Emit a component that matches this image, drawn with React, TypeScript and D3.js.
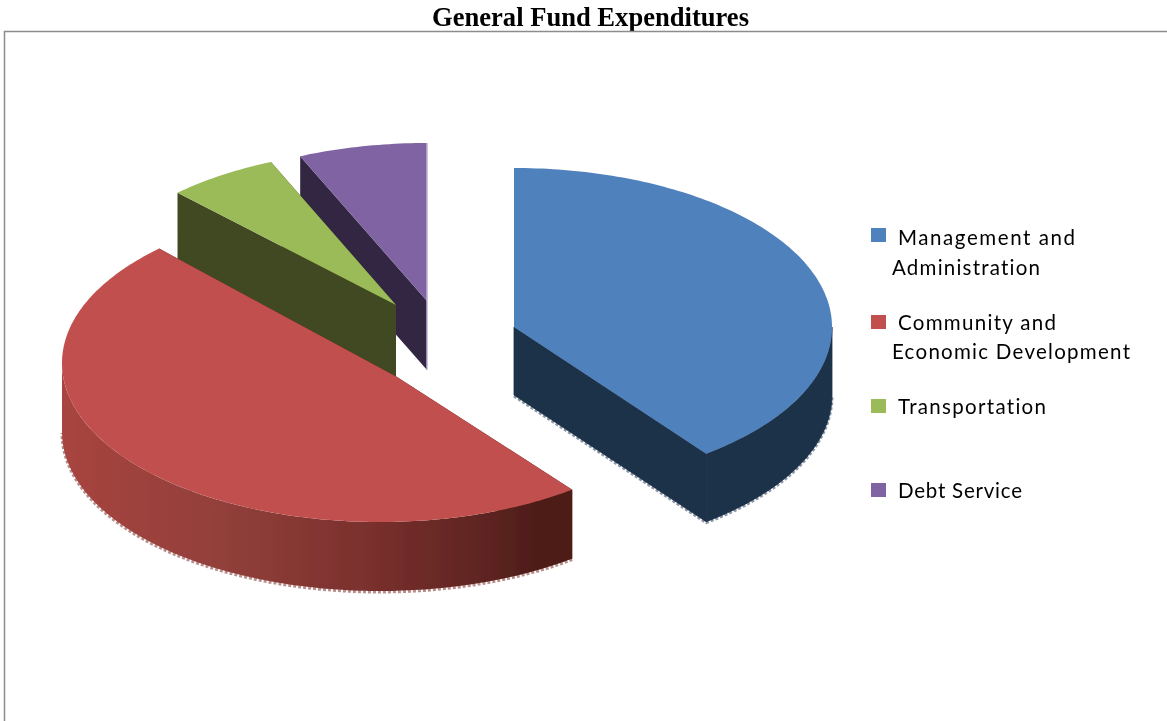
import React from "react";
import * as d3 from "d3";

const title = "General Fund Expenditures";
const categories = ["Management and Administration", "Community and Economic Development", "Transportation", "Debt Service"];
const legendLines = [["Management and", "Administration"], ["Community and", "Economic Development"], ["Transportation"], ["Debt Service"]];
const shares = [39.67, 48.11, 5.69, 6.53];
const topColors = ["#4f81bd", "#c0504d", "#9bbb59", "#8064a2"];
const wallColors = ["#1d3049", "#4e1c18", "#3f4a20", "#312642"];
const edgeColors = ["#8b97a6", "#b98f8d", "#8f9a70", "#8f88a0"];

// placement of each exploded slice in the projected view
const arcCentres = [[514, 327], [380, 363], [397, 305], [427, 302]];
const apexes = [[514, 327], [397, 377], [396, 305], [427, 301]];
const radiiX = [318, 318, 316, 318];
const radiiY = [159, 159, 156, 159];
const depths = [68, 69, 72, 69];
const legendSwatchY = [228, 315, 399, 483];
const legendBaselines = [[245, 275], [330, 359], [414], [498]];
const legendWidths = [[177, 148], [158, 238], [148], [124]];
const redWallStops = [["0%", "#a8443f"], ["30%", "#93403b"], ["60%", "#7a302d"], ["85%", "#5c2320"], ["93%", "#4e1c18"], ["100%", "#4e1c18"]];

const pieGen = d3.pie<number>().sort(null).startAngle(0).endAngle(2 * Math.PI);
const pieData = pieGen(shares);
const lineGen = d3.line<number[]>().x((p) => p[0]).y((p) => p[1]).curve(d3.curveLinear);

function arcPoints(i: number, from: number, to: number, dy = 0) {
  const [cx, cy] = arcCentres[i];
  const n = Math.max(2, Math.round(((to - from) * 180) / Math.PI));
  return d3.range(n + 1).map((k) => {
    const t = from + ((to - from) * k) / n;
    return [cx + radiiX[i] * Math.sin(t), cy - radiiY[i] * Math.cos(t) + dy];
  });
}

function Slice({ i }: { i: number }) {
  const a = pieData[i];
  const depth = depths[i];
  const top = arcPoints(i, a.startAngle, a.endAngle);
  const apex = apexes[i];
  const apexLow = [apex[0], apex[1] + depth];
  const first = top[0];
  const last = top[top.length - 1];
  const startWall = lineGen([apex, first, [first[0], first[1] + depth], apexLow]) + "Z";
  const endWall = lineGen([apex, last, [last[0], last[1] + depth], apexLow]) + "Z";
  const face = lineGen([apex, ...top]) + "Z";

  // only the part of the rim that faces the viewer is drawn as a wall
  const from = Math.max(a.startAngle, Math.PI / 2);
  const to = Math.min(a.endAngle, (3 * Math.PI) / 2);
  const hasRim = to > from;
  const rimTop = hasRim ? arcPoints(i, from, to) : [];
  const rimBottom = hasRim ? arcPoints(i, from, to, depth) : [];
  const rim = hasRim ? lineGen([...rimTop, ...rimBottom.slice().reverse()]) + "Z" : null;
  const fringePts = hasRim ? arcPoints(i, from, to, depth + 1) : [];
  const fringe = i === 0
    ? lineGen([[apexLow[0], apexLow[1] + 1], [last[0], last[1] + depth + 1], ...fringePts.slice().reverse()])
    : hasRim ? lineGen(fringePts) : null;
  const seam = i === 0 ? wallColors[i] : "none";

  return (
    <g>
      {fringe && <path d={fringe as string} fill="none" stroke={edgeColors[i]} strokeWidth={3} strokeDasharray="3 2" />}
      <path d={startWall} fill={wallColors[i]} />
      <path d={endWall} fill={wallColors[i]} stroke={seam} strokeWidth={0.8} />
      {rim && <path d={rim} fill={i === 1 ? "url(#redWall)" : wallColors[i]} stroke={seam} strokeWidth={0.8} />}
      <path d={face} fill={topColors[i]} />
    </g>
  );
}

export default function App() {
  const purpleEnd = arcPoints(3, pieData[3].startAngle, pieData[3].endAngle);
  const purpleEdge = lineGen([[apexes[3][0], apexes[3][1] + depths[3]], purpleEnd[purpleEnd.length - 1]]) as string;
  return (
    <svg width={1167} height={721} style={{ position: "absolute", left: 0, top: 0, background: "#fff" }}>
      <defs>
        <linearGradient id="redWall" gradientUnits="userSpaceOnUse" x1={62} x2={571} y1={0} y2={0}>
          {redWallStops.map(([o, c]) => (
            <stop key={o} offset={o} stopColor={c} />
          ))}
        </linearGradient>
        <filter id="soft" x="-5%" y="-5%" width="110%" height="110%">
          <feGaussianBlur stdDeviation={0.6} />
        </filter>
      </defs>
      <text x={590.5} y={26} textAnchor="middle" fontFamily="'Liberation Serif', serif" fontWeight={700} fontSize={27} textLength={317} lengthAdjust="spacingAndGlyphs" fill="#000" filter="url(#soft)">
        {title}
      </text>
      <path d="M1167,31.5H4.5V721" fill="none" stroke="#8c8c8c" strokeWidth={1.5} />
      <g filter="url(#soft)">
        {[3, 2, 1, 0].map((i) => (
          <Slice key={categories[i]} i={i} />
        ))}
        <path d={purpleEdge} stroke="#bfb0d2" strokeWidth={1.5} fill="none" />
      </g>
      <g filter="url(#soft)">
        {categories.map((c, i) => (
          <g key={c}>
            <rect x={871} y={legendSwatchY[i]} width={15} height={14} fill={topColors[i]} />
            {legendLines[i].map((line, j) => (
              <text key={line} x={j === 0 ? 898 : 892} y={legendBaselines[i][j]} fontFamily="Lato, sans-serif" fontSize={20.5} textLength={legendWidths[i][j]} lengthAdjust="spacing" fill="#000" style={{ fontVariantLigatures: "none" }}>
                {line}
              </text>
            ))}
          </g>
        ))}
      </g>
    </svg>
  );
}
